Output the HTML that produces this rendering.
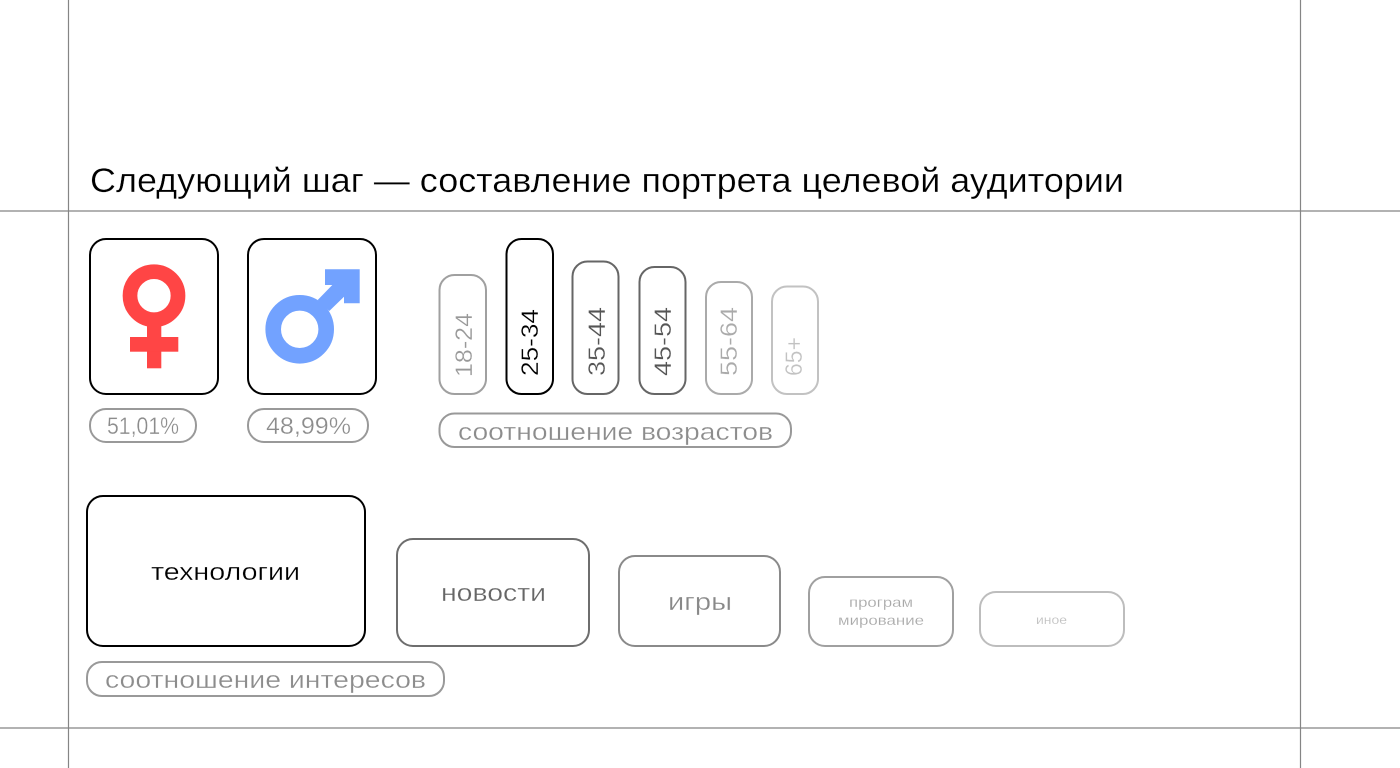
<!DOCTYPE html>
<html lang="ru">
<head>
<meta charset="utf-8">
<style>
html,body{margin:0;padding:0;background:#fff;width:1400px;height:768px;overflow:hidden}
svg{display:block}
text{font-family:"Liberation Sans","DejaVu Sans",sans-serif;stroke:#fff;stroke-width:.3px}
</style>
</head>
<body>
<svg width="1400" height="768" viewBox="0 0 1400 768" xmlns="http://www.w3.org/2000/svg">
<g stroke="#858585" stroke-width="1.200" fill="none">
<line x1="68.500" y1="0" x2="68.500" y2="768"/>
<line x1="1300.500" y1="0" x2="1300.500" y2="768"/>
<line x1="0" y1="211" x2="1400" y2="211"/>
<line x1="0" y1="728" x2="1400" y2="728"/>
</g>
<text x="90" y="192" font-size="34" fill="#000" textLength="1034" lengthAdjust="spacingAndGlyphs">Следующий шаг — составление портрета целевой аудитории</text>

<g fill="none" stroke-width="2">
<rect x="90" y="239" width="128" height="155" rx="16" stroke="#000"/>
<rect x="248" y="239" width="128" height="155" rx="16" stroke="#000"/>
<rect x="90" y="409" width="106" height="33" rx="16" stroke="#999"/>
<rect x="248" y="409" width="120" height="33" rx="16" stroke="#999"/>
<rect x="439.500" y="275" width="46.500" height="119" rx="15" stroke="#a0a0a0"/>
<rect x="506.500" y="239" width="46.500" height="155" rx="15" stroke="#000"/>
<rect x="572.500" y="261.500" width="46" height="132.500" rx="15" stroke="#666"/>
<rect x="639.500" y="267" width="46" height="127" rx="15" stroke="#666"/>
<rect x="706" y="282" width="46" height="112" rx="15" stroke="#aaa"/>
<rect x="772" y="286.500" width="46" height="107.500" rx="15" stroke="#c2c2c2"/>
<rect x="439.500" y="413.500" width="351.500" height="33.500" rx="15" stroke="#999"/>
<rect x="87" y="496" width="278" height="150" rx="16" stroke="#000"/>
<rect x="397" y="539" width="192" height="107" rx="16" stroke="#6e6e6e"/>
<rect x="619" y="556" width="161" height="90" rx="16" stroke="#8a8a8a"/>
<rect x="809" y="577" width="144" height="69" rx="16" stroke="#a0a0a0"/>
<rect x="980" y="592" width="144" height="54" rx="16" stroke="#bdbdbd"/>
<rect x="87" y="662" width="357" height="34" rx="15" stroke="#999"/>
</g>

<circle cx="154" cy="295.700" r="24" fill="none" stroke="#ff4545" stroke-width="14.700"/>
<rect x="147" y="320" width="14.300" height="48.300" fill="#ff4545"/>
<rect x="130" y="337" width="48.300" height="14.700" fill="#ff4545"/>

<circle cx="299.700" cy="329.300" r="26.500" fill="none" stroke="#72a2ff" stroke-width="15.600"/>
<polygon points="325,269.300 359.700,269.300 359.700,303.300 344,303.300 344,296.700 329.300,311 317.700,300 332.300,285 325,285" fill="#72a2ff"/>

<g font-size="24">
<text x="107" y="434" fill="#8c8c8c" textLength="72" lengthAdjust="spacingAndGlyphs">51,01%</text>
<text x="266" y="434" fill="#8c8c8c" textLength="85" lengthAdjust="spacingAndGlyphs">48,99%</text>
<text x="458" y="440" fill="#8c8c8c" textLength="315" lengthAdjust="spacingAndGlyphs">соотношение возрастов</text>
<text x="105" y="688" fill="#8c8c8c" textLength="321" lengthAdjust="spacingAndGlyphs">соотношение интересов</text>
<text transform="translate(472 377) rotate(-90)" fill="#999" textLength="64" lengthAdjust="spacingAndGlyphs">18-24</text>
<text transform="translate(538 376) rotate(-90)" fill="#000" textLength="67" lengthAdjust="spacingAndGlyphs">25-34</text>
<text transform="translate(605 376) rotate(-90)" fill="#555" textLength="69" lengthAdjust="spacingAndGlyphs">35-44</text>
<text transform="translate(671 376) rotate(-90)" fill="#555" textLength="69" lengthAdjust="spacingAndGlyphs">45-54</text>
<text transform="translate(737 376) rotate(-90)" fill="#aaa" textLength="69" lengthAdjust="spacingAndGlyphs">55-64</text>
<text transform="translate(802 376) rotate(-90)" fill="#c2c2c2" textLength="39" lengthAdjust="spacingAndGlyphs">65+</text>
<text x="151" y="580" fill="#000" textLength="149" lengthAdjust="spacingAndGlyphs">технологии</text>
<text x="441" y="601" fill="#666" textLength="105" lengthAdjust="spacingAndGlyphs">новости</text>
<text x="668" y="610" fill="#888" textLength="64" lengthAdjust="spacingAndGlyphs">игры</text>
</g>
<g font-size="14">
<text x="849" y="607" fill="#a8a8a8" textLength="64" lengthAdjust="spacingAndGlyphs" style="stroke-width:.15px">програм</text>
<text x="838" y="625" fill="#a8a8a8" textLength="86" lengthAdjust="spacingAndGlyphs" style="stroke-width:.15px">мирование</text>
</g>
<text x="1036" y="624" font-size="12" fill="#c2c2c2" textLength="31" lengthAdjust="spacingAndGlyphs" style="stroke-width:.1px">иное</text>
</svg>
</body>
</html>
